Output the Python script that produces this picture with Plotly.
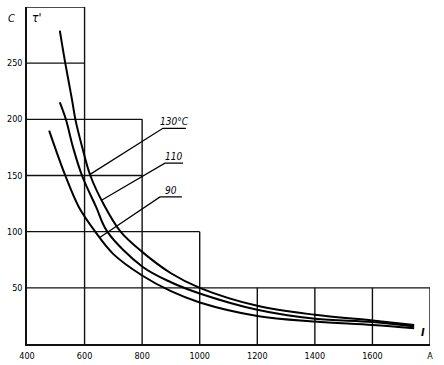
import plotly.graph_objects as go

# ---- data ----
curve_names = ["130°C", "110", "90"]
c130_x = [514, 533, 556, 568, 592, 620, 665, 725, 800, 900, 1000, 1200, 1400, 1600, 1745]
c130_y = [279, 250, 218, 200, 175, 150, 125, 100, 82, 63, 50, 34, 26, 21, 17]
c110_x = [514, 535, 560, 591, 640, 679, 800, 900, 1000, 1200, 1400, 1600, 1745]
c110_y = [215, 200, 175, 150, 122, 100, 69, 55, 45, 30.5, 22.5, 19.5, 15.5]
c90_x = [477, 533, 580, 637, 700, 800, 900, 1000, 1200, 1400, 1600, 1745]
c90_y = [190, 150, 122, 100, 80, 61, 47, 37, 25, 20, 17, 14]

x_tick_vals = [400, 600, 800, 1000, 1200, 1400, 1600, 1800]
x_tick_text = ["400", "600", "800", "1000", "1200", "1400", "1600", "A"]
y_tick_vals = [50, 100, 150, 200, 250]
y_tick_text = ["50", "100", "150", "200", "250"]

# staircase grid: horizontal lines (y, x_end) and vertical lines (x, y_end)
h_lines_y = [300, 250, 200, 150, 100, 50]
h_lines_xend = [600, 600, 800, 800, 1000, 1800]
v_lines_x = [600, 800, 1000, 1200, 1400, 1600, 1800]
v_lines_yend = [300, 200, 100, 50, 50, 50, 50]

# leaders: point on curve -> elbow -> end of underline
lead_x = [[619, 872, 952], [659, 879, 942], [654, 862, 938]]
lead_y = [[151, 192, 192], [128, 161, 161], [95, 131, 131]]

FONT = "DejaVu Sans Condensed, DejaVu Sans"

fig = go.Figure()

for y, xe in zip(h_lines_y, h_lines_xend):
    fig.add_trace(go.Scatter(x=[400, xe], y=[y, y], mode="lines",
                             line=dict(color="#111", width=1.4),
                             hoverinfo="skip", showlegend=False))
for x, ye in zip(v_lines_x, v_lines_yend):
    fig.add_trace(go.Scatter(x=[x, x], y=[0, ye], mode="lines",
                             line=dict(color="#111", width=1.4),
                             hoverinfo="skip", showlegend=False))

for xs, ys in [(c130_x, c130_y), (c110_x, c110_y), (c90_x, c90_y)]:
    fig.add_trace(go.Scatter(x=xs, y=ys, mode="lines",
                             line=dict(color="#000", width=2, shape="spline", smoothing=1.0),
                             hoverinfo="skip", showlegend=False))

for lx, ly, name in zip(lead_x, lead_y, curve_names):
    fig.add_trace(go.Scatter(x=lx, y=ly, mode="lines",
                             line=dict(color="#000", width=1.3),
                             hoverinfo="skip", showlegend=False))
    fig.add_annotation(x=(lx[1] + lx[2]) / 2, y=ly[1], text="<i>" + name + "</i>",
                       showarrow=False, xanchor="center", yanchor="bottom", yshift=-1,
                       font=dict(family=FONT, size=10, color="#000"))

fig.add_annotation(x=0, xref="paper", y=1, yref="paper", text="<i>C</i>", showarrow=False,
                   xanchor="right", yanchor="top", xshift=-10, yshift=-3,
                   font=dict(family=FONT, size=11, color="#000"))
fig.add_annotation(x=0, xref="paper", y=1, yref="paper", text="<i>τ'</i>", showarrow=False,
                   xanchor="left", yanchor="top", xshift=3, yshift=-2,
                   font=dict(family=FONT, size=12, color="#000"))
fig.add_annotation(x=1800, y=0, text="<i><b>I</b></i>", showarrow=False,
                   xanchor="right", yanchor="bottom", xshift=-3, yshift=3,
                   font=dict(family=FONT, size=11, color="#000"))

fig.update_xaxes(range=[400, 1800], tickvals=x_tick_vals, ticktext=x_tick_text,
                 showgrid=False, zeroline=False, showline=True, linecolor="#111", linewidth=1.5,
                 ticks="", automargin=False, ticklabelstandoff=2,
                 tickfont=dict(family=FONT, size=9, color="#000"))
fig.update_yaxes(range=[0, 300], tickvals=y_tick_vals, ticktext=y_tick_text,
                 showgrid=False, zeroline=False, showline=True, linecolor="#111", linewidth=1.5,
                 ticks="", automargin=False, ticklabelstandoff=1,
                 tickfont=dict(family=FONT, size=9, color="#000"))

fig.update_layout(width=444, height=365, margin=dict(l=27, r=14, t=7, b=21),
                  paper_bgcolor="white", plot_bgcolor="white")

fig.write_html("out.html", config={"displayModeBar": False},
               post_script="document.body.style.margin='0';")
